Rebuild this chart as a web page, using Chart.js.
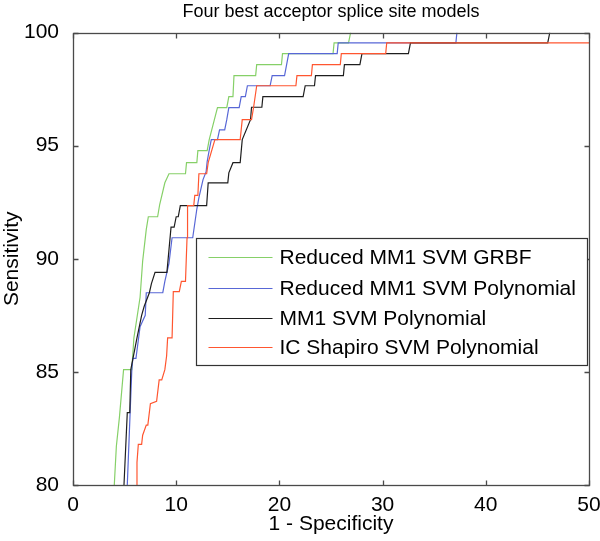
<!DOCTYPE html>
<html>
<head>
<meta charset="utf-8">
<title>Four best acceptor splice site models</title>
<script src="https://cdn.jsdelivr.net/npm/chart.js@4.4.1/dist/chart.umd.min.js"></script>
<style>
  html, body { margin: 0; padding: 0; background: #ffffff; }
  canvas { display: block; }
</style>
</head>
<body>
<canvas id="rocChart" width="600" height="541"></canvas>
<script>
const CHART_TITLE = 'Four best acceptor splice site models';
const X_LABEL = '1 - Specificity';
const Y_LABEL = 'Sensitivity';

const X_TICKS = [0, 10, 20, 30, 40, 50];
const Y_TICKS = [80, 85, 90, 95, 100];

const SERIES_NAMES = [
  'Reduced MM1 SVM GRBF',
  'Reduced MM1 SVM Polynomial',
  'MM1 SVM Polynomial',
  'IC Shapiro SVM Polynomial'
];

const SERIES_COLORS = ['#86d068', '#5867d6', '#1e1e1e', '#ff5630'];

const grbfX = [4.0, 4.2, 4.5, 4.9, 5.7, 5.9, 6.5, 6.75, 7.1, 7.3, 8.2, 8.4, 8.9, 9.3, 10.9, 11.0, 12.0, 12.1, 13.0, 13.2, 14.0, 14.9, 15.1, 15.5, 15.6, 17.7, 17.8, 20.2, 20.3, 25.2, 25.3, 26.7, 26.9];
const grbfY = [80, 81.7, 83.0, 85.1, 85.1, 86.5, 88.3, 89.9, 91.3, 91.86, 91.86, 92.4, 93.36, 93.76, 93.76, 94.25, 94.25, 94.78, 94.78, 95.27, 96.68, 96.68, 97.17, 97.17, 98.1, 98.1, 98.58, 98.58, 99.07, 99.07, 99.55, 99.55, 100];

const redPolyX = [5.26, 5.7, 5.8, 6.1, 6.5, 7.0, 7.1, 8.7, 8.9, 9.3, 9.6, 11.6, 12.0, 12.2, 12.6, 12.9, 13.0, 13.2, 13.4, 14.0, 14.2, 14.7, 14.9, 15.1, 16.1, 16.3, 16.7, 16.9, 19.1, 19.3, 20.5, 20.9, 25.6, 25.7, 37.1, 37.2];
const redPolyY = [80, 85.1, 85.6, 85.6, 87.0, 87.5, 88.5, 88.5, 89.0, 89.8, 90.93, 90.93, 92.2, 92.7, 93.5, 93.85, 94.3, 94.8, 95.27, 95.27, 95.7, 95.7, 96.15, 96.68, 96.68, 97.17, 97.17, 97.65, 97.65, 98.1, 98.1, 99.07, 99.07, 99.55, 99.55, 100];

const mm1PolyX = [4.94, 5.26, 5.5, 5.6, 6.2, 6.65, 6.9, 7.4, 7.6, 7.95, 9.1, 9.5, 9.8, 10.0, 10.2, 10.4, 12.95, 13.1, 15.0, 15.1, 15.5, 16.2, 16.4, 17.2, 17.3, 18.3, 18.4, 22.3, 22.5, 23.4, 23.5, 26.2, 26.3, 27.8, 28.0, 32.5, 32.7, 46.0, 46.2];
const mm1PolyY = [80, 83.2, 83.2, 85.1, 86.5, 87.5, 87.9, 88.5, 88.9, 89.4, 89.4, 91.4, 91.4, 91.86, 91.86, 92.35, 92.35, 93.36, 93.36, 93.8, 94.25, 94.25, 95.27, 96.15, 96.7, 96.7, 97.17, 97.17, 97.65, 97.65, 98.1, 98.1, 98.58, 98.58, 99.07, 99.07, 99.55, 99.55, 100];

const shapiroX = [6.17, 6.2, 6.33, 6.65, 6.75, 7.1, 7.25, 7.5, 8.1, 8.35, 8.6, 8.9, 9.07, 9.17, 9.6, 9.72, 10.3, 10.5, 10.9, 11.05, 11.1, 11.7, 11.8, 12.1, 12.2, 12.95, 13.1, 13.75, 16.2, 16.4, 17.3, 17.5, 17.8, 21.6, 21.7, 23.1, 23.2, 25.9, 26.0, 30.3, 30.4, 50];
const shapiroY = [80, 81.0, 81.8, 81.8, 82.2, 82.65, 82.65, 83.6, 83.7, 84.65, 84.65, 85.1, 85.7, 86.5, 86.5, 88.55, 88.55, 89.0, 89.0, 90.93, 92.35, 92.35, 92.8, 92.8, 93.76, 93.76, 94.25, 95.27, 95.27, 96.15, 96.15, 96.7, 97.65, 97.65, 98.1, 98.1, 98.58, 98.58, 99.07, 99.07, 99.55, 99.55];

const SERIES_X = [grbfX, redPolyX, mm1PolyX, shapiroX];
const SERIES_Y = [grbfY, redPolyY, mm1PolyY, shapiroY];

const FONT_FAMILY = "'Liberation Sans', Arial, sans-serif";
const AXIS_COLOR = '#4a4a4a';

function toPoints(xs, ys) {
  return xs.map((x, i) => ({ x, y: ys[i] }));
}

// box round the plot with inward ticks, matlab style
const frameBox = {
  id: 'frameBox',
  afterDatasetsDraw(chart) {
    const { ctx, chartArea, scales } = chart;
    const left = Math.round(chartArea.left) + 0.5;
    const right = Math.round(chartArea.right) + 0.5;
    const top = Math.round(chartArea.top) + 0.5;
    const bottom = Math.round(chartArea.bottom) + 0.5;
    const tick = 5;

    ctx.save();
    ctx.strokeStyle = AXIS_COLOR;
    ctx.lineWidth = 1.3;
    ctx.beginPath();
    X_TICKS.forEach((v) => {
      const px = Math.round(scales.x.getPixelForValue(v)) + 0.5;
      ctx.moveTo(px, bottom);
      ctx.lineTo(px, bottom - tick);
      ctx.moveTo(px, top);
      ctx.lineTo(px, top + tick);
    });
    Y_TICKS.forEach((v) => {
      const py = Math.round(scales.y.getPixelForValue(v)) + 0.5;
      ctx.moveTo(left, py);
      ctx.lineTo(left + tick, py);
      ctx.moveTo(right, py);
      ctx.lineTo(right - tick, py);
    });
    ctx.stroke();
    ctx.strokeRect(left, top, right - left, bottom - top);
    ctx.restore();
  }
};

const boxLegend = {
  id: 'boxLegend',
  afterDraw(chart) {
    const { ctx, chartArea } = chart;
    const w = chartArea.right - chartArea.left;
    const h = chartArea.bottom - chartArea.top;
    const bx = Math.round(chartArea.left + 0.239 * w) + 0.5;
    const by = Math.round(chartArea.top + 0.453 * h) + 0.5;
    const bw = Math.round(chartArea.right - 2) + 0.5 - bx;
    const bh = 127;
    const rows = [18, 49, 79, 108];

    ctx.save();
    ctx.fillStyle = '#ffffff';
    ctx.fillRect(bx, by, bw, bh);
    ctx.strokeStyle = '#333333';
    ctx.lineWidth = 1.2;
    ctx.strokeRect(bx, by, bw, bh);

    ctx.font = `21px ${FONT_FAMILY}`;
    ctx.textBaseline = 'middle';
    ctx.textAlign = 'left';
    SERIES_NAMES.forEach((name, i) => {
      const ry = Math.round(by + rows[i]) + 0.5;
      ctx.strokeStyle = SERIES_COLORS[i];
      ctx.lineWidth = 1.2;
      ctx.beginPath();
      ctx.moveTo(bx + 12, ry);
      ctx.lineTo(bx + 76, ry);
      ctx.stroke();
      ctx.fillStyle = '#000000';
      ctx.fillText(name, bx + 83, ry + 1);
    });
    ctx.restore();
  }
};

function buildDatasets() {
  return SERIES_NAMES.map((name, i) => ({
    label: name,
    data: toPoints(SERIES_X[i], SERIES_Y[i]),
    borderColor: SERIES_COLORS[i],
    backgroundColor: SERIES_COLORS[i],
    borderWidth: 1.2,
    pointRadius: 0,
    tension: 0,
    fill: false,
    order: SERIES_NAMES.length - i
  }));
}

Chart.defaults.font.family = FONT_FAMILY;
Chart.defaults.color = '#000000';

new Chart(document.getElementById('rocChart'), {
  type: 'line',
  data: { datasets: buildDatasets() },
  options: {
    responsive: false,
    animation: false,
    layout: { padding: { left: 0, right: 0, top: 0, bottom: 0 } },
    plugins: {
      legend: { display: false },
      tooltip: { enabled: false },
      title: {
        display: true,
        fullSize: false,
        text: CHART_TITLE,
        color: '#000000',
        font: { size: 18, weight: 'normal' },
        padding: { top: 1, bottom: 10 }
      }
    },
    scales: {
      x: {
        type: 'linear',
        min: 0,
        max: 50,
        afterBuildTicks: (scale) => { scale.ticks = X_TICKS.map((v) => ({ value: v })); },
        afterFit: (scale) => {
          scale.height = 56;
          scale.paddingRight = 11;
        },
        grid: { display: false },
        border: { display: false },
        ticks: { font: { size: 21 }, color: '#000000', padding: 0, maxRotation: 0 },
        title: { display: true, text: X_LABEL, font: { size: 21 }, color: '#000000', padding: { top: 0, bottom: 4 } }
      },
      y: {
        type: 'linear',
        min: 80,
        max: 100,
        afterBuildTicks: (scale) => { scale.ticks = Y_TICKS.map((v) => ({ value: v })); },
        afterFit: (scale) => { scale.width = 73; },
        grid: { display: false },
        border: { display: false },
        ticks: { font: { size: 21 }, color: '#000000', padding: 6 },
        title: { display: true, text: Y_LABEL, font: { size: 21 }, color: '#000000', padding: { top: 0, bottom: 0 } }
      }
    }
  },
  plugins: [frameBox, boxLegend]
});
</script>
</body>
</html>
